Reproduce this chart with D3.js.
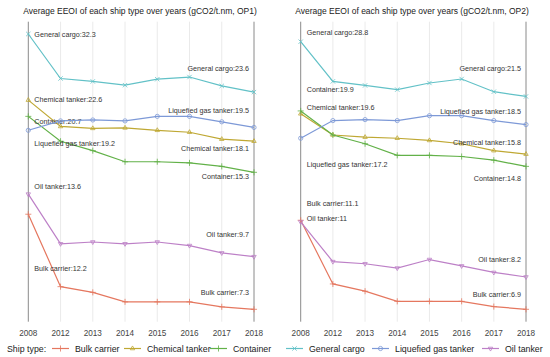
<!DOCTYPE html>
<html>
<head>
<meta charset="utf-8">
<script src="https://cdn.jsdelivr.net/npm/d3@7"></script>
<style>
  body { margin: 0; background: #fff; }
  svg { display: block; font-family: "Liberation Sans", Arial, sans-serif; }
</style>
</head>
<body>
<div id="chart-wrap"></div>
<script>
const years = ["2008", "2012", "2013", "2014", "2015", "2016", "2017", "2018"];
const shipTypes = ["Bulk carrier", "Chemical tanker", "Container", "General cargo", "Liquefied gas tanker", "Oil tanker"];

// OP1 values (gCO2/t.nm)
const op1Bulk      = [12.2, 8.25, 8.0, 7.6, 7.6, 7.6, 7.4, 7.3];
const op1Chemical  = [22.6, 19.6, 19.4, 19.45, 19.2, 19.0, 18.3, 18.1];
const op1Container = [20.7, 18.1, 17.2, 16.2, 16.2, 16.1, 15.8, 15.3];
const op1General   = [32.3, 25.4, 25.0, 24.5, 25.3, 25.6, 24.4, 23.6];
const op1Gas       = [19.2, 20.2, 20.3, 20.2, 20.7, 20.7, 20.1, 19.5];
const op1Oil       = [13.6, 10.4, 10.5, 10.4, 10.5, 10.3, 9.9, 9.7];

// OP2 values
const op2Bulk      = [11.1, 7.9, 7.6, 7.2, 7.2, 7.2, 7.0, 6.9];
const op2Chemical  = [19.6, 17.5, 17.3, 17.2, 17.0, 16.7, 16.1, 15.8];
const op2Container = [19.9, 17.5, 16.7, 15.7, 15.7, 15.6, 15.3, 14.8];
const op2General   = [28.8, 23.3, 22.8, 22.3, 23.1, 23.6, 22.05, 21.5];
const op2Gas       = [17.2, 18.9, 19.0, 18.9, 19.4, 19.4, 18.9, 18.5];
const op2Oil       = [11, 8.9, 8.8, 8.6, 9.0, 8.7, 8.4, 8.2];

const colors = ["#e5775f", "#bfa833", "#62b148", "#62c1c7", "#7d99d7", "#bd80c7"];

const width = 550, height = 357;
const plotTop = 21.7, plotBottom = 321.7;

// label nudges (px) for first / last point, in shipTypes order
const panels = [
  {
    title: "Average EEOI of each ship type over years (gCO2/t.nm, OP1)",
    series: [op1Bulk, op1Chemical, op1Container, op1General, op1Gas, op1Oil],
    xRange: [28.3, 254], yRange: [309.3, 34], cx: 140,
    startDy: [54, -1, 5, 0, 13, -8],
    endDy: [-17, 7, 4, -24, -17, -22]
  },
  {
    title: "Average EEOI of each ship type over years (gCO2/t.nm, OP2)",
    series: [op2Bulk, op2Chemical, op2Container, op2General, op2Gas, op2Oil],
    xRange: [300.7, 526], yRange: [309.3, 41.7], cx: 412,
    startDy: [-17, -6, -21, -9, 26, -3],
    endDy: [-15, -12, 12, -28, -13, -17]
  }
];

const svg = d3.select("#chart-wrap").append("svg")
  .attr("width", width).attr("height", height);

function marker(i) {
  const shapes = [d3.symbolPlus, d3.symbolTriangle2, d3.symbolPlus, d3.symbolTimes, d3.symbolCircle, d3.symbolTriangle2];
  return d3.symbol().type(shapes[i]).size(14)();
}

panels.forEach(p => {
  const x = d3.scalePoint().domain(years).range(p.xRange);
  const allVals = p.series.flat();
  const y = d3.scaleLog().domain(d3.extent(allVals)).range(p.yRange);
  const g = svg.append("g");

  // vertical grid
  g.selectAll("line.grid").data(years).join("line")
    .attr("x1", d => x(d)).attr("x2", d => x(d))
    .attr("y1", plotTop).attr("y2", plotBottom)
    .attr("stroke", (d, i) => (i === 0 || i === years.length - 1) ? "#8a8a8a" : "#e4e4e4")
    .attr("stroke-width", (d, i) => (i === 0 || i === years.length - 1) ? 1 : 0.8);

  // x axis labels
  g.selectAll("text.tick").data(years).join("text")
    .attr("x", d => x(d)).attr("y", 335.5)
    .attr("text-anchor", "middle")
    .attr("font-size", 8.2).attr("fill", "#444")
    .text(d => d);

  // title
  g.append("text").attr("x", p.cx).attr("y", 13.5)
    .attr("text-anchor", "middle").attr("font-size", 8.5).attr("fill", "#222")
    .text(p.title);

  const line = d3.line().x((d, i) => x(years[i])).y(d => y(d));

  p.series.forEach((vals, si) => {
    g.append("path").datum(vals)
      .attr("fill", "none").attr("stroke", colors[si]).attr("stroke-width", 1.2)
      .attr("d", line);
    g.selectAll(null).data(vals).join("path")
      .attr("transform", (d, i) => `translate(${x(years[i])},${y(d)})` + (si === 5 ? " rotate(180)" : ""))
      .attr("d", marker(si))
      .attr("fill", "none").attr("stroke", colors[si]).attr("stroke-width", 0.8);

    const first = vals[0], last = vals[vals.length - 1];
    g.append("text")
      .attr("x", x(years[0]) + 6).attr("y", y(first) + p.startDy[si])
      .attr("dy", "0.35em").attr("font-size", 7.2).attr("fill", "#333")
      .text(shipTypes[si] + ":" + first);
    g.append("text")
      .attr("x", x(years[years.length - 1]) - 5).attr("y", y(last) + p.endDy[si])
      .attr("dy", "0.35em").attr("text-anchor", "end").attr("font-size", 7.2).attr("fill", "#333")
      .text(shipTypes[si] + ":" + last);
  });
});

// legend
const legend = svg.append("g").attr("transform", "translate(0,348.5)");
legend.append("text").attr("x", 7).attr("dy", "0.35em")
  .attr("font-size", 8.8).attr("fill", "#222").text("Ship type:");
const keyX = [52, 124, 210, 286, 372, 482];
shipTypes.forEach((name, i) => {
  const k = legend.append("g").attr("transform", `translate(${keyX[i]},0)`);
  k.append("line").attr("x1", 0).attr("x2", 17).attr("stroke", colors[i]).attr("stroke-width", 1.2);
  k.append("path").attr("transform", "translate(8.5,0)" + (i === 5 ? " rotate(180)" : ""))
    .attr("d", marker(i)).attr("fill", "none").attr("stroke", colors[i]).attr("stroke-width", 0.8);
  k.append("text").attr("x", 23).attr("dy", "0.35em")
    .attr("font-size", 8.8).attr("fill", "#222").text(name);
});
</script>
</body>
</html>
